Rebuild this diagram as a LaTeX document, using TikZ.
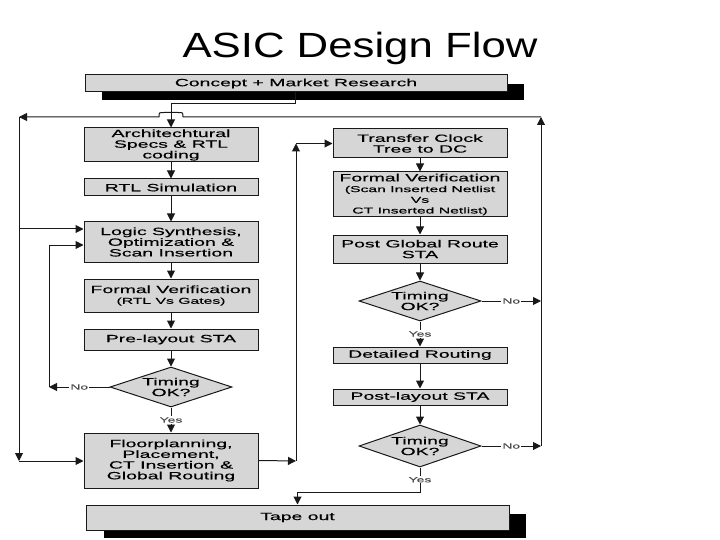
\documentclass[tikz,border=0pt]{standalone}
\usepackage{fontspec}
\setmainfont{Liberation Sans}
\newfontfamily\boxfont[FakeStretch=1.85,FakeBold=0.4]{Liberation Sans}
\newfontfamily\titlefont[FakeStretch=1.25]{Liberation Sans}
\newcommand{\smallt}{\fontsize{8.5}{9}\selectfont}
\usetikzlibrary{shapes.geometric,arrows.meta,calc}
\begin{document}
\begin{tikzpicture}[x=1pt,y=-1pt,
  box/.style={draw=black!90, fill=black!16, line width=1pt, minimum width=174pt,
    inner sep=1pt, align=center, font=\boxfont\fontsize{10.5}{10.7}\selectfont},
  dia/.style={diamond, shape aspect=3, draw=black!90, fill=black!16, line width=1pt,
    minimum width=122pt, minimum height=40pt, inner sep=0pt, align=center,
    font=\boxfont\fontsize{10.5}{10.7}\selectfont},
  conn/.style={draw=black!90, line width=1pt},
  arr/.style={conn, -{Triangle[length=8pt,width=8pt]}},
  lbl/.style={fill=white, inner sep=1pt, text=black!70,
    font=\boxfont\fontsize{7.5}{8}\selectfont}]
\useasboundingbox (0,0) rectangle (720,540);

\node[font=\titlefont\fontsize{35}{40}\selectfont, anchor=base] (title) at (360,58) {ASIC Design Flow};

% concept
\fill[black] (102,84) rectangle (524,100);
\node[box, minimum width=422pt, minimum height=17pt] (concept) at (296,83.5) {Concept + Market Research};

% left column
\node[box, minimum height=34pt] (arch) at (171,145) {Architechtural\\Specs \& RTL\\coding};
\node[box, minimum height=17pt] (rtl) at (171,187.5) {RTL Simulation};
\node[box, minimum height=40pt] (logic) at (171,242) {Logic Synthesis,\\Optimization \&\\Scan Insertion};
\node[box, minimum height=33pt] (fvl) at (171,295.5) {Formal Verification\\{\smallt (RTL Vs Gates)}};
\node[box, minimum height=21pt] (pre) at (171,339.5) {Pre-layout STA};
\node[dia] (d1) at (171,387) {Timing\\OK?};
\node[box, minimum height=55pt] (floor) at (171,460.5) {Floorplanning,\\Placement,\\CT Insertion \&\\Global Routing};

% right column
\node[box, minimum height=29pt] (tct) at (420,143.5) {Transfer Clock\\Tree to DC};
\node[box, minimum height=45pt] (fvr) at (420,194.5) {Formal Verification\\{\smallt (Scan Inserted Netlist}\\{\smallt Vs}\\{\smallt CT Inserted Netlist)}};
\node[box, minimum height=28pt] (pgr) at (420,249) {Post Global Route\\STA};
\node[dia] (d2) at (420,301) {Timing\\OK?};
\node[box, minimum height=16pt] (det) at (420,355) {Detailed Routing};
\node[box, minimum height=16pt] (post) at (420,397) {Post-layout STA};
\node[dia, minimum height=42pt] (d3) at (420,446) {Timing\\OK?};

% tape out
\fill[black] (104,514) rectangle (526,538);
\node[box, minimum width=423pt, minimum height=25pt] (tape) at (297.5,517.5) {Tape out};

% coordinates
\coordinate (TR) at (541,117);
\coordinate (TL) at (19,117);
\coordinate (BL) at (19,461);
\coordinate (NL) at (49,387);
\coordinate (FR) at (296,461);
\coordinate (YJ) at (420,492);
\coordinate (LA) at ([yshift=13pt]logic.west);
\coordinate (LB) at ([yshift=-3pt]logic.west);

% concept to arch
\draw[arr] ([xshift=-1pt]concept.south) -- ++(0,11) -| (arch.north);

% left column flow
\draw[arr] (arch) -- (rtl);
\draw[arr] (rtl) -- (logic);
\draw[arr] (logic) -- (fvl);
\draw[arr] (fvl) -- (pre);
\draw[arr] (pre) -- (d1);
\draw[arr] (d1.south) -- node[lbl]{Yes} (floor.north);
\draw[arr] (d1.west) -- node[lbl]{No} (NL);
\draw[arr] (NL) |- (LB);

% big loop
\draw[arr] (TR) -- (183,117) .. controls (183,112.5) .. (178,112.5) -- (164,112.5) .. controls (159,112.5) .. (159,117) -- (TL);
\draw[arr] (TL) -- (BL);
\draw[arr] (BL) -- (BL -| floor.west);
\draw[arr] (LA -| TL) -- (LA);

% floor to right column
\draw[arr] (floor.east) -- (FR);
\draw[arr] (FR) -- (FR |- tct.west);
\draw[arr] (FR |- tct.west) -- (tct.west);

% right column flow
\draw[arr] (tct) -- (fvr);
\draw[arr] (fvr) -- (pgr);
\draw[arr] (pgr) -- (d2);
\draw[arr] (d2.south) -- node[lbl]{Yes} (det.north);
\draw[arr] (det) -- (post);
\draw[arr] (post) -- (d3);
\draw[arr] (d2.east) -- node[lbl]{No} (d2.east -| TR);
\draw[arr] (d3.east) -- node[lbl]{No} (d3.east -| TR);
\draw[arr] (d3.east -| TR) -- (TR);
\draw[arr] (d3.south) -- node[lbl]{Yes} (YJ) -| (tape.north);
\end{tikzpicture}
\end{document}
